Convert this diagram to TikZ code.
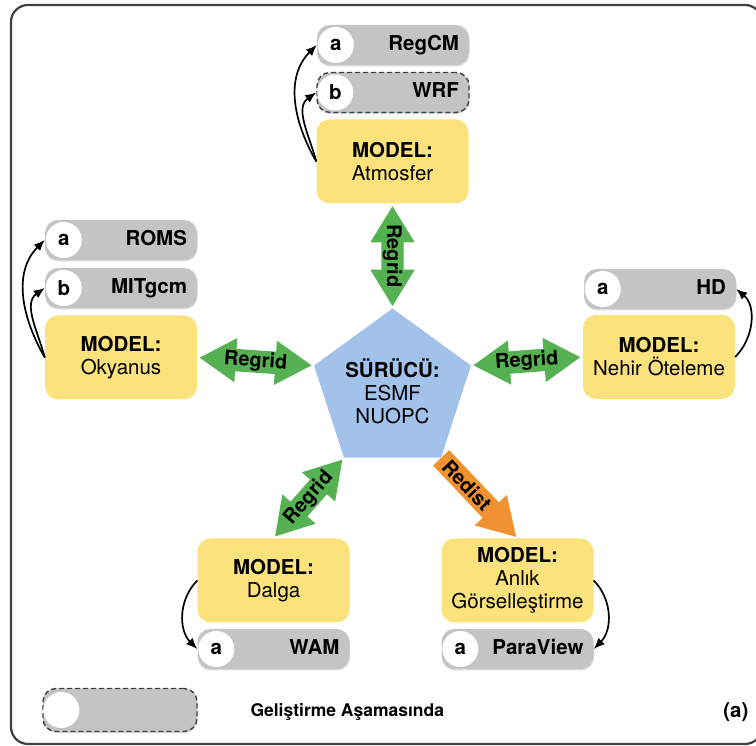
\documentclass[tikz,border=0pt]{standalone}
\usepackage{fontspec}
\setmainfont{TeX Gyre Heros}
\usetikzlibrary{calc,shapes.geometric,shapes.arrows,arrows.meta,shadows}

\definecolor{modelyellow}{HTML}{FCE27D}
\definecolor{pillgray}{HTML}{C4C4C4}
\definecolor{drvblue}{HTML}{A3C2EA}
\definecolor{regridgreen}{HTML}{55B152}
\definecolor{redistorange}{HTML}{F0922F}

% fat two-headed link between two anchors
\newcommand{\regridlink}[4]{%
  \path let \p1=($(#3)-(#2)$), \n1={veclen(\x1,\y1)}, \n2={atan2(\y1,\x1)} in
    node (#1) [regrid, minimum height=\n1-5, rotate=\n2] at ($(#2)!0.5!(#3)$) {}
    node (#1-txt) [linktext, rotate=\n2] at ($(#2)!0.5!(#3)$) {#4};}

\begin{document}
\begin{tikzpicture}[x=1pt, y=1pt,
  every node/.style={font=\fontsize{20.5}{23}\selectfont},
  model/.style={rounded corners=13pt, fill=modelyellow, minimum width=152pt,
    minimum height=84pt, align=center, inner sep=0pt},
  pill/.style={rounded corners=13pt, fill=pillgray, minimum width=152pt,
    minimum height=40pt, text width=132pt, align=right, inner xsep=10pt,
    inner ysep=0pt, text height=14pt, text depth=3.5pt,
    font=\fontsize{20.5}{23}\selectfont\bfseries,
    drop shadow={shadow xshift=0.5pt, shadow yshift=-1.5pt, opacity=0.3}},
  wip/.style={draw=black!75, line width=1.4pt, dash pattern=on 5pt off 3pt},
  letter/.style={circle, fill=white, minimum size=36pt, inner sep=0pt,
    font=\fontsize{20.5}{23}\selectfont\bfseries},
  driver/.style={regular polygon, regular polygon sides=5, minimum size=152pt,
    inner sep=0pt, outer sep=0pt, fill=drvblue, align=center},
  regrid/.style={double arrow, fill=regridgreen, text height=14pt, text depth=4pt,
    inner xsep=0pt, inner ysep=2pt, minimum width=0pt,
    double arrow head extend=11pt, double arrow tip angle=63},
  redist/.style={single arrow, fill=redistorange, text height=14pt, text depth=4pt,
    inner xsep=0pt, inner ysep=2pt, minimum width=0pt,
    single arrow head extend=11pt, single arrow tip angle=62},
  linktext/.style={inner sep=0pt, font=\fontsize{20}{23}\selectfont\bfseries},
  curvy/.style={-{Latex[length=11pt,width=9pt]}, line width=1.7pt}]

  \clip (0,0) rectangle (756,746);
  \draw[line width=2.2pt, draw=black!75, rounded corners=17pt] (11,2) rectangle (762,741);

  % driver
  \node (drv) [driver] at (392.5,355) {\textbf{SÜRÜCÜ:}\\ESMF\\NUOPC};

  % models
  \node (atmos) [model] at (392.5,584.5) {\textbf{MODEL:}\\Atmosfer};
  \node (okyanus) [model] at (121,388.5) {\textbf{MODEL:}\\Okyanus};
  \node (nehir) [model] at (659,389) {\textbf{MODEL:}\\Nehir Öteleme};
  \node (dalga) [model] at (273.5,165.5) {\textbf{MODEL:}\\Dalga};
  \node (anlik) [model] at (517.5,165.5) {\textbf{MODEL:}\\Anlık\\Görselleştirme};

  % components
  \node (regcm) [pill] at (393,701) {RegCM};
  \node (regcm-a) [letter] at ([xshift=19pt]regcm.west) {a};
  \node (wrf) [pill, wip] at (393,653.5) {WRF};
  \node (wrf-b) [letter] at ([xshift=19pt]wrf.west) {b};
  \node (roms) [pill] at (121,506) {ROMS};
  \node (roms-a) [letter] at ([xshift=19pt]roms.west) {a};
  \node (mitgcm) [pill] at (121,458) {MITgcm};
  \node (mitgcm-b) [letter] at ([xshift=19pt]mitgcm.west) {b};
  \node (hd) [pill] at (660,457) {HD};
  \node (hd-a) [letter] at ([xshift=19pt]hd.west) {a};
  \node (wam) [pill] at (273.5,97) {WAM};
  \node (wam-a) [letter] at ([xshift=19pt]wam.west) {a};
  \node (paraview) [pill] at (517.5,97) {ParaView};
  \node (paraview-a) [letter] at ([xshift=19pt]paraview.west) {a};

  % couplings
  \regridlink{rg-atm}{atmos.south}{drv.corner 1}{Regrid}
  \regridlink{rg-oky}{okyanus.east}{drv.corner 2}{Regrid}
  \regridlink{rg-nhr}{drv.corner 5}{nehir.west}{Regrid}
  \regridlink{rg-dlg}{dalga.north}{drv.corner 3}{Regrid}
  \path let \p1=($(anlik.north)-(drv.corner 4)$), \n1={veclen(\x1,\y1)},
      \n2={atan2(\y1,\x1)} in
    node (rd) [redist, minimum height=\n1-2, rotate=\n2, anchor=tail] at (drv.corner 4) {}
    node (rd-txt) [linktext, rotate=\n2] at ($(drv.corner 4)!0.34!(anlik.north)$) {Redist};

  % model -> component arrows
  \draw[curvy] (atmos.west) to[out=120, in=225] (regcm.west);
  \draw[curvy] (atmos.west) to[out=105, in=215] (wrf.west);
  \draw[curvy] (okyanus.west) to[out=120, in=225] (roms.west);
  \draw[curvy] (okyanus.west) to[out=105, in=215] (mitgcm.west);
  \draw[curvy] (nehir.east) to[out=45, in=-40] (hd.east);
  \draw[curvy] (dalga.west) to[out=225, in=135] (wam.west);
  \draw[curvy] (anlik.east) to[out=-45, in=45] (paraview.east);

  % legend
  \node (legend) [pill, wip, minimum width=154pt, minimum height=43pt] at (120,36) {};
  \node (legend-c) [letter] at ([xshift=19pt]legend.west) {};
  \node (legend-txt) [anchor=west, font=\fontsize{17.5}{20}\selectfont\bfseries] at (247,34) {Geliştirme Aşamasında};
  \node (panel) [anchor=east, font=\fontsize{20.5}{23}\selectfont\bfseries] at (752,34) {(a)};
\end{tikzpicture}
\end{document}
